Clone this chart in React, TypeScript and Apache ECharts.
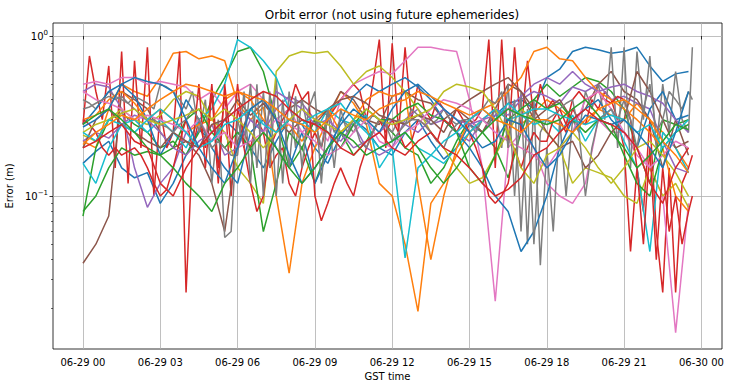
import React, { useEffect, useRef } from 'react';
import * as echarts from 'echarts';

// time in hours since 06-29 00:00 GST (half-hour samples)
const hours = [
  0, 0.5, 1, 1.5, 2, 2.5, 3, 3.5, 4, 4.5, 5, 5.5,
  6, 6.5, 7, 7.5, 8, 8.5, 9, 9.5, 10, 10.5, 11, 11.5,
  12, 12.5, 13, 13.5, 14, 14.5, 15, 15.5, 16, 16.5, 17, 17.5,
  18, 18.5, 19, 19.5, 20, 20.5, 21, 21.5, 22, 22.5, 23, 23.5,
];
// quarter-hour samples (for the fast-varying satellites)
const hoursQ = [
  0, 0.25, 0.5, 0.75, 1, 1.25, 1.5, 1.75, 2, 2.25, 2.5, 2.75,
  3, 3.25, 3.5, 3.75, 4, 4.25, 4.5, 4.75, 5, 5.25, 5.5, 5.75,
  6, 6.25, 6.5, 6.75, 7, 7.25, 7.5, 7.75, 8, 8.25, 8.5, 8.75,
  9, 9.25, 9.5, 9.75, 10, 10.25, 10.5, 10.75, 11, 11.25, 11.5, 11.75,
  12, 12.25, 12.5, 12.75, 13, 13.25, 13.5, 13.75, 14, 14.25, 14.5, 14.75,
  15, 15.25, 15.5, 15.75, 16, 16.25, 16.5, 16.75, 17, 17.25, 17.5, 17.75,
  18, 18.25, 18.5, 18.75, 19, 19.25, 19.5, 19.75, 20, 20.25, 20.5, 20.75,
  21, 21.25, 21.5, 21.75, 22, 22.25, 22.5, 22.75, 23, 23.25, 23.5, 23.65,
];

const xTickHours = [0, 3, 6, 9, 12, 15, 18, 21, 24];
const yMajorValues = [0.1, 1];
const yMinorValues = [0.02, 0.03, 0.04, 0.05, 0.06, 0.07, 0.08, 0.09, 0.2, 0.3, 0.4, 0.5, 0.6, 0.7, 0.8, 0.9];

const s01 = [
  0.16, 0.19, 0.22, 0.15, 0.13, 0.14,
  0.09, 0.12, 0.18, 0.26, 0.22, 0.3,
  0.25, 0.2, 0.15, 0.22, 0.3, 0.28,
  0.2, 0.16, 0.24, 0.3, 0.26, 0.2,
  0.18, 0.25, 0.3, 0.22, 0.17, 0.2,
  0.28, 0.25, 0.32, 0.38, 0.4, 0.35,
  0.55, 0.62, 0.8, 0.85, 0.82, 0.78,
  0.8, 0.85, 0.65, 0.52, 0.58, 0.6,
];
const s02 = [
  0.22, 0.2, 0.35, 0.5, 0.45, 0.42,
  0.55, 0.78, 0.8, 0.72, 0.75, 0.7,
  0.38, 0.3, 0.36, 0.1, 0.033, 0.12,
  0.2, 0.3, 0.45, 0.38, 0.28, 0.12,
  0.1, 0.05, 0.019, 0.09, 0.12, 0.18,
  0.25, 0.3, 0.35, 0.3, 0.28, 0.33,
  0.4, 0.35, 0.3, 0.28, 0.35, 0.32,
  0.3, 0.38, 0.3, 0.25, 0.2, 0.15,
];
const s03 = [
  0.075, 0.2, 0.3, 0.33, 0.28, 0.25,
  0.2, 0.22, 0.18, 0.25, 0.4, 0.55,
  0.8, 0.85, 0.6, 0.3, 0.15, 0.2,
  0.12, 0.2, 0.25, 0.18, 0.22, 0.3,
  0.25, 0.2, 0.18, 0.12, 0.15, 0.22,
  0.3, 0.25, 0.2, 0.13, 0.25, 0.4,
  0.5, 0.42, 0.48, 0.55, 0.52, 0.45,
  0.35, 0.2, 0.12, 0.3, 0.28, 0.3,
];
const s04 = [
  0.28, 0.75, 0.45, 0.3, 0.65, 0.15, 0.8, 0.12, 0.7, 0.2, 0.85, 0.1,
  0.35, 0.2, 0.25, 0.8, 0.025, 0.2, 0.3, 0.2, 0.5, 0.15, 0.45, 0.1,
  0.35, 0.25, 0.2, 0.3, 0.25, 0.15, 0.18, 0.2, 0.12, 0.1, 0.15, 0.2,
  0.25, 0.2, 0.3, 0.35, 0.4, 0.45, 0.5, 0.45, 0.3, 0.5, 0.95, 0.2,
  0.9, 0.25, 0.85, 0.3, 0.5, 0.35, 0.3, 0.4, 0.35, 0.3, 0.25, 0.3,
  0.28, 0.3, 0.35, 0.95, 0.15, 0.95, 0.2, 0.85, 0.25, 0.7, 0.3, 0.5,
  0.35, 0.4, 0.3, 0.25, 0.35, 0.3, 0.28, 0.4, 0.35, 0.45, 0.4, 0.3,
  0.2, 0.045, 0.15, 0.08, 0.3, 0.06, 0.025, 0.15, 0.025, 0.12, 0.15, 0.18,
];
const s05 = [
  0.45, 0.5, 0.48, 0.35, 0.15, 0.085,
  0.12, 0.15, 0.25, 0.2, 0.28, 0.18,
  0.2, 0.3, 0.25, 0.35, 0.42, 0.38,
  0.3, 0.25, 0.22, 0.28, 0.2, 0.18,
  0.2, 0.3, 0.35, 0.28, 0.3, 0.25,
  0.22, 0.3, 0.35, 0.32, 0.4, 0.45,
  0.42, 0.38, 0.48, 0.45, 0.5, 0.4,
  0.42, 0.38, 0.35, 0.22, 0.15, 0.14,
];
const s06 = [
  0.038, 0.05, 0.075, 0.45, 0.4, 0.35,
  0.25, 0.2, 0.22, 0.18, 0.12, 0.06,
  0.22, 0.35, 0.4, 0.3, 0.35, 0.4,
  0.35, 0.32, 0.45, 0.4, 0.3, 0.28,
  0.42, 0.45, 0.4, 0.38, 0.3, 0.35,
  0.3, 0.25, 0.35, 0.5, 0.45, 0.3,
  0.35, 0.4, 0.3, 0.35, 0.5, 0.6,
  0.45, 0.4, 0.3, 0.15, 0.3, 0.18,
];
const s07 = [
  0.5, 0.52, 0.5, 0.55, 0.55, 0.5,
  0.52, 0.5, 0.48, 0.4, 0.45, 0.35,
  0.45, 0.5, 0.4, 0.3, 0.35, 0.25,
  0.3, 0.22, 0.4, 0.5, 0.55, 0.6,
  0.58, 0.7, 0.85, 0.85, 0.82, 0.8,
  0.4, 0.15, 0.022, 0.2, 0.25, 0.2,
  0.12, 0.1, 0.09, 0.12, 0.3, 0.25,
  0.25, 0.18, 0.15, 0.1, 0.014, 0.09,
];
const s08 = [
  0.4, 0.38, 0.35, 0.4, 0.45, 0.42, 0.4, 0.38, 0.42, 0.4, 0.38, 0.35,
  0.5, 0.48, 0.45, 0.4, 0.35, 0.45, 0.25, 0.4, 0.12, 0.3, 0.055, 0.06,
  0.3, 0.2, 0.5, 0.15, 0.45, 0.15, 0.55, 0.12, 0.45, 0.2, 0.4, 0.25,
  0.3, 0.2, 0.35, 0.25, 0.3, 0.28, 0.25, 0.3, 0.28, 0.32, 0.3, 0.28,
  0.25, 0.3, 0.28, 0.35, 0.32, 0.3, 0.28, 0.3, 0.35, 0.3, 0.28, 0.3,
  0.28, 0.25, 0.3, 0.28, 0.35, 0.2, 0.5, 0.1, 0.45, 0.05, 0.4, 0.037,
  0.2, 0.06, 0.3, 0.1, 0.3, 0.25, 0.45, 0.35, 0.5, 0.3, 0.85, 0.2,
  0.85, 0.15, 0.8, 0.3, 0.75, 0.2, 0.5, 0.25, 0.6, 0.3, 0.25, 0.85,
];
const s09 = [
  0.24, 0.22, 0.3, 0.35, 0.3, 0.28,
  0.32, 0.4, 0.45, 0.42, 0.3, 0.25,
  0.15, 0.12, 0.09, 0.6, 0.75, 0.8,
  0.78, 0.8, 0.65, 0.5, 0.6, 0.65,
  0.55, 0.45, 0.35, 0.25, 0.2, 0.15,
  0.12, 0.13, 0.18, 0.25, 0.35, 0.3,
  0.25, 0.2, 0.12, 0.15, 0.14, 0.13,
  0.1, 0.09, 0.15, 0.1, 0.12, 0.085,
];
const s10 = [
  0.16, 0.12, 0.2, 0.28, 0.3, 0.25,
  0.3, 0.25, 0.2, 0.3, 0.35, 0.5,
  0.95, 0.85, 0.7, 0.55, 0.35, 0.3,
  0.25, 0.35, 0.3, 0.28, 0.32, 0.15,
  0.2, 0.041, 0.15, 0.18, 0.16, 0.2,
  0.25, 0.3, 0.35, 0.3, 0.32, 0.28,
  0.3, 0.25, 0.32, 0.22, 0.3, 0.35,
  0.22, 0.15, 0.045, 0.25, 0.2, 0.14,
];
const s11 = [
  0.28, 0.35, 0.45, 0.5, 0.42, 0.3,
  0.18, 0.25, 0.4, 0.3, 0.2, 0.15,
  0.12, 0.25, 0.3, 0.2, 0.15, 0.25,
  0.12, 0.18, 0.3, 0.42, 0.5, 0.45,
  0.5, 0.55, 0.48, 0.4, 0.3, 0.25,
  0.2, 0.15, 0.1, 0.08, 0.045, 0.06,
  0.1, 0.2, 0.3, 0.35, 0.4, 0.3,
  0.25, 0.2, 0.35, 0.45, 0.3, 0.32,
];
const s12 = [
  0.3, 0.32, 0.4, 0.45, 0.38, 0.3,
  0.35, 0.3, 0.25, 0.28, 0.3, 0.4,
  0.45, 0.4, 0.3, 0.25, 0.28, 0.22,
  0.3, 0.35, 0.25, 0.3, 0.4, 0.45,
  0.42, 0.45, 0.12, 0.04, 0.1, 0.2,
  0.3, 0.35, 0.38, 0.45, 0.55, 0.8,
  0.85, 0.72, 0.7, 0.55, 0.45, 0.4,
  0.35, 0.3, 0.25, 0.2, 0.1, 0.08,
];
const s13 = [
  0.08, 0.1, 0.15, 0.2, 0.18, 0.19,
  0.18, 0.2, 0.3, 0.35, 0.25, 0.2,
  0.25, 0.2, 0.06, 0.12, 0.25, 0.2,
  0.3, 0.25, 0.2, 0.28, 0.35, 0.3,
  0.3, 0.35, 0.38, 0.32, 0.3, 0.25,
  0.15, 0.12, 0.18, 0.3, 0.35, 0.4,
  0.35, 0.38, 0.3, 0.25, 0.3, 0.28,
  0.18, 0.12, 0.1, 0.2, 0.25, 0.28,
];
const s14 = [
  0.3, 0.28, 0.25, 0.2, 0.18, 0.2, 0.18, 0.19, 0.2, 0.18, 0.15, 0.12,
  0.1, 0.11, 0.15, 0.22, 0.3, 0.2, 0.5, 0.15, 0.45, 0.12, 0.5, 0.2,
  0.5, 0.2, 0.12, 0.08, 0.1, 0.2, 0.25, 0.3, 0.35, 0.5, 0.4, 0.45,
  0.1, 0.07, 0.09, 0.12, 0.15, 0.12, 0.1, 0.15, 0.2, 0.25, 0.3, 0.25,
  0.3, 0.25, 0.2, 0.22, 0.3, 0.28, 0.25, 0.22, 0.3, 0.28, 0.35, 0.3,
  0.25, 0.2, 0.15, 0.1, 0.09, 0.1, 0.12, 0.2, 0.15, 0.2, 0.25, 0.22,
  0.22, 0.3, 0.35, 0.28, 0.4, 0.45, 0.4, 0.42, 0.45, 0.4, 0.38, 0.42,
  0.4, 0.3, 0.15, 0.05, 0.2, 0.04, 0.15, 0.06, 0.1, 0.05, 0.08, 0.1,
];
const s15 = [
  0.22, 0.25, 0.23, 0.28, 0.32, 0.3,
  0.25, 0.2, 0.18, 0.22, 0.25, 0.3,
  0.35, 0.3, 0.25, 0.45, 0.4, 0.35,
  0.28, 0.3, 0.25, 0.2, 0.22, 0.25,
  0.3, 0.28, 0.25, 0.3, 0.35, 0.3,
  0.28, 0.3, 0.32, 0.35, 0.42, 0.5,
  0.55, 0.5, 0.6, 0.5, 0.45, 0.48,
  0.5, 0.45, 0.42, 0.38, 0.3, 0.25,
];
const s16 = [
  0.2, 0.3, 0.35, 0.28, 0.25, 0.22,
  0.2, 0.25, 0.22, 0.2, 0.28, 0.3,
  0.4, 0.32, 0.38, 0.3, 0.25, 0.3,
  0.28, 0.35, 0.4, 0.42, 0.38, 0.32,
  0.3, 0.28, 0.32, 0.3, 0.25, 0.35,
  0.4, 0.45, 0.5, 0.55, 0.45, 0.35,
  0.25, 0.2, 0.22, 0.15, 0.18, 0.25,
  0.3, 0.6, 0.45, 0.3, 0.2, 0.22,
];
const s17 = [
  0.45, 0.4, 0.38, 0.35, 0.3, 0.32,
  0.3, 0.28, 0.25, 0.3, 0.22, 0.25,
  0.2, 0.22, 0.25, 0.3, 0.28, 0.25,
  0.22, 0.18, 0.2, 0.25, 0.3, 0.22,
  0.2, 0.25, 0.28, 0.35, 0.4, 0.38,
  0.35, 0.3, 0.25, 0.22, 0.2, 0.18,
  0.15, 0.2, 0.25, 0.4, 0.45, 0.35,
  0.25, 0.2, 0.15, 0.18, 0.22, 0.2,
];
const s18 = [
  0.35, 0.36, 0.38, 0.4, 0.42, 0.4, 0.42, 0.38, 0.35, 0.32, 0.3, 0.3,
  0.28, 0.27, 0.25, 0.28, 0.3, 0.35, 0.3, 0.25, 0.2, 0.22, 0.2, 0.18,
  0.18, 0.45, 0.12, 0.5, 0.1, 0.45, 0.1, 0.4, 0.15, 0.42, 0.15, 0.35,
  0.45, 0.12, 0.35, 0.15, 0.35, 0.25, 0.3, 0.22, 0.2, 0.25, 0.3, 0.28,
  0.22, 0.25, 0.28, 0.3, 0.3, 0.28, 0.25, 0.22, 0.2, 0.25, 0.28, 0.3,
  0.3, 0.32, 0.35, 0.4, 0.38, 0.45, 0.2, 0.4, 0.06, 0.35, 0.05, 0.25,
  0.3, 0.32, 0.35, 0.38, 0.4, 0.25, 0.1, 0.2, 0.3, 0.32, 0.35, 0.3,
  0.4, 0.3, 0.2, 0.35, 0.5, 0.25, 0.3, 0.45, 0.4, 0.35, 0.45, 0.4,
];
const s19 = [
  0.25, 0.28, 0.3, 0.33, 0.35, 0.3,
  0.28, 0.3, 0.32, 0.35, 0.3, 0.35,
  0.3, 0.25, 0.2, 0.25, 0.3, 0.35,
  0.3, 0.28, 0.25, 0.3, 0.35, 0.3,
  0.28, 0.3, 0.32, 0.35, 0.45, 0.5,
  0.48, 0.45, 0.35, 0.25, 0.15, 0.12,
  0.18, 0.2, 0.25, 0.2, 0.15, 0.12,
  0.15, 0.2, 0.22, 0.18, 0.14, 0.1,
];
const s20 = [
  0.25, 0.22, 0.3, 0.28, 0.25, 0.3,
  0.35, 0.3, 0.25, 0.2, 0.22, 0.28,
  0.3, 0.35, 0.28, 0.25, 0.3, 0.28,
  0.32, 0.35, 0.38, 0.3, 0.25, 0.2,
  0.22, 0.25, 0.2, 0.18, 0.22, 0.25,
  0.3, 0.35, 0.3, 0.38, 0.32, 0.35,
  0.35, 0.32, 0.3, 0.28, 0.3, 0.32,
  0.3, 0.25, 0.28, 0.2, 0.25, 0.3,
];
const s21 = [
  0.27, 0.3, 0.35, 0.5, 0.55, 0.52,
  0.5, 0.45, 0.3, 0.2, 0.15, 0.12,
  0.2, 0.35, 0.4, 0.3, 0.18, 0.12,
  0.15, 0.2, 0.28, 0.35, 0.3, 0.25,
  0.35, 0.45, 0.5, 0.42, 0.35, 0.3,
  0.25, 0.2, 0.22, 0.3, 0.28, 0.2,
  0.15, 0.18, 0.25, 0.32, 0.3, 0.28,
  0.3, 0.25, 0.2, 0.15, 0.25, 0.45,
];
const s22 = [
  0.21, 0.25, 0.28, 0.32, 0.3, 0.35,
  0.4, 0.45, 0.5, 0.48, 0.45, 0.42,
  0.45, 0.42, 0.4, 0.35, 0.3, 0.28,
  0.25, 0.3, 0.35, 0.32, 0.3, 0.35,
  0.38, 0.4, 0.45, 0.42, 0.38, 0.35,
  0.32, 0.35, 0.3, 0.28, 0.25, 0.3,
  0.3, 0.28, 0.25, 0.3, 0.35, 0.38,
  0.4, 0.35, 0.3, 0.22, 0.18, 0.14,
];
const s23 = [
  0.28, 0.32, 0.35, 0.3, 0.25, 0.2,
  0.18, 0.15, 0.12, 0.1, 0.08, 0.12,
  0.15, 0.2, 0.25, 0.2, 0.15, 0.12,
  0.15, 0.2, 0.25, 0.22, 0.18, 0.2,
  0.22, 0.25, 0.2, 0.15, 0.12, 0.15,
  0.2, 0.25, 0.3, 0.35, 0.32, 0.3,
  0.28, 0.3, 0.35, 0.4, 0.32, 0.25,
  0.2, 0.15, 0.18, 0.22, 0.28, 0.26,
];
const s24 = [
  0.2, 0.22, 0.25, 0.28, 0.22, 0.2,
  0.12, 0.1, 0.15, 0.2, 0.25, 0.3,
  0.35, 0.4, 0.45, 0.42, 0.35, 0.3,
  0.28, 0.25, 0.2, 0.18, 0.22, 0.25,
  0.2, 0.18, 0.22, 0.25, 0.2, 0.18,
  0.15, 0.12, 0.1, 0.11, 0.13, 0.18,
  0.2, 0.25, 0.3, 0.35, 0.3, 0.28,
  0.25, 0.2, 0.12, 0.09, 0.15, 0.2,
];

const seriesValues = [
  s01, s02, s03, s04, s05, s06, s07, s08, s09, s10, s11, s12,
  s13, s14, s15, s16, s17, s18, s19, s20, s21, s22, s23, s24,
];

const palette = ['#1f77b4', '#ff7f0e', '#2ca02c', '#d62728', '#9467bd', '#8c564b', '#e377c2', '#7f7f7f', '#bcbd22', '#17becf'];

const FONT = 'DejaVu Sans';
const X_MIN = -1.164;
const X_MAX = 24.8;
const Y_MIN_EXP = -1.956;
const Y_MAX_EXP = 0.0813;

function pad(n: number) {
  return n < 10 ? '0' + n : '' + n;
}

export default function App() {
  const ref = useRef<HTMLDivElement>(null);
  useEffect(() => {
    if (!ref.current) return;
    const chart = echarts.init(ref.current, null, { renderer: 'svg' });
    const tickStyle = { show: true, length: 3.5, lineStyle: { color: '#000', width: 0.8 } };
    chart.setOption({
      animation: false,
      color: palette,
      title: {
        text: 'Orbit error (not using future ephemerides)',
        left: 387,
        top: 4,
        textAlign: 'center',
        textStyle: { fontFamily: FONT, fontSize: 12, fontWeight: 'normal', color: '#000' },
      },
      grid: {
        left: 53,
        right: 8,
        top: 23,
        bottom: 38,
        containLabel: false,
        outerBoundsMode: 'none',
        show: true,
        borderColor: '#000',
        borderWidth: 0.8,
        backgroundColor: 'transparent',
      },
      xAxis: {
        type: 'value',
        min: X_MIN,
        max: X_MAX,
        name: 'GST time',
        nameLocation: 'middle',
        nameGap: 20,
        nameTextStyle: { fontFamily: FONT, fontSize: 10, color: '#000' },
        axisLine: { show: false },
        axisTick: { ...tickStyle, customValues: xTickHours },
        axisLabel: {
          customValues: xTickHours,
          fontFamily: FONT,
          fontSize: 10,
          color: '#000',
          margin: 8,
          formatter: (v: number) => (v >= 24 ? '06-30 ' + pad(v - 24) : '06-29 ' + pad(v)),
        },
        splitLine: { show: true, lineStyle: { color: '#b0b0b0', width: 0.8 } },
      },
      yAxis: [
        {
          type: 'log',
          logBase: 10,
          min: Math.pow(10, Y_MIN_EXP),
          max: Math.pow(10, Y_MAX_EXP),
          show: false,
        },
        {
          type: 'value',
          min: Y_MIN_EXP,
          max: Y_MAX_EXP,
          position: 'left',
          name: 'Error (m)',
          nameLocation: 'middle',
          nameGap: 36,
          nameTextStyle: { fontFamily: FONT, fontSize: 10, color: '#000' },
          axisLine: { show: false },
          axisTick: { ...tickStyle, customValues: yMajorValues.map((v) => Math.log10(v)) },
          axisLabel: {
            customValues: yMajorValues.map((v) => Math.log10(v)),
            margin: 5,
            formatter: (v: number) => '{b|10}{e|' + (Math.round(v) < 0 ? '\u2212' + Math.abs(Math.round(v)) : Math.round(v)) + '}',
            rich: {
              b: { fontFamily: FONT, fontSize: 10, color: '#000', lineHeight: 14 },
              e: { fontFamily: FONT, fontSize: 7, color: '#000', verticalAlign: 'top', lineHeight: 8 },
            },
          },
          splitLine: { show: true, lineStyle: { color: '#b0b0b0', width: 0.8 } },
        },
        {
          type: 'value',
          min: Y_MIN_EXP,
          max: Y_MAX_EXP,
          position: 'left',
          axisLine: { show: false },
          axisTick: { show: true, length: 2, lineStyle: { color: '#000', width: 0.6 }, customValues: yMinorValues.map((v) => Math.log10(v)) },
          axisLabel: { show: false },
          splitLine: { show: false },
        },
      ],
      series: seriesValues.map((vals, i) => {
        const times = vals.length === hoursQ.length ? hoursQ : hours;
        return {
          type: 'line',
          yAxisIndex: 0,
          data: times.map((h, j) => [h, vals[j]]),
          showSymbol: false,
          symbol: 'none',
          lineStyle: { width: 1.5 },
          z: 2 + i * 0.01,
        };
      }),
    });
    return () => chart.dispose();
  }, []);
  return <div ref={ref} style={{ position: 'absolute', left: 0, top: 0, width: 730, height: 387 }} />;
}
